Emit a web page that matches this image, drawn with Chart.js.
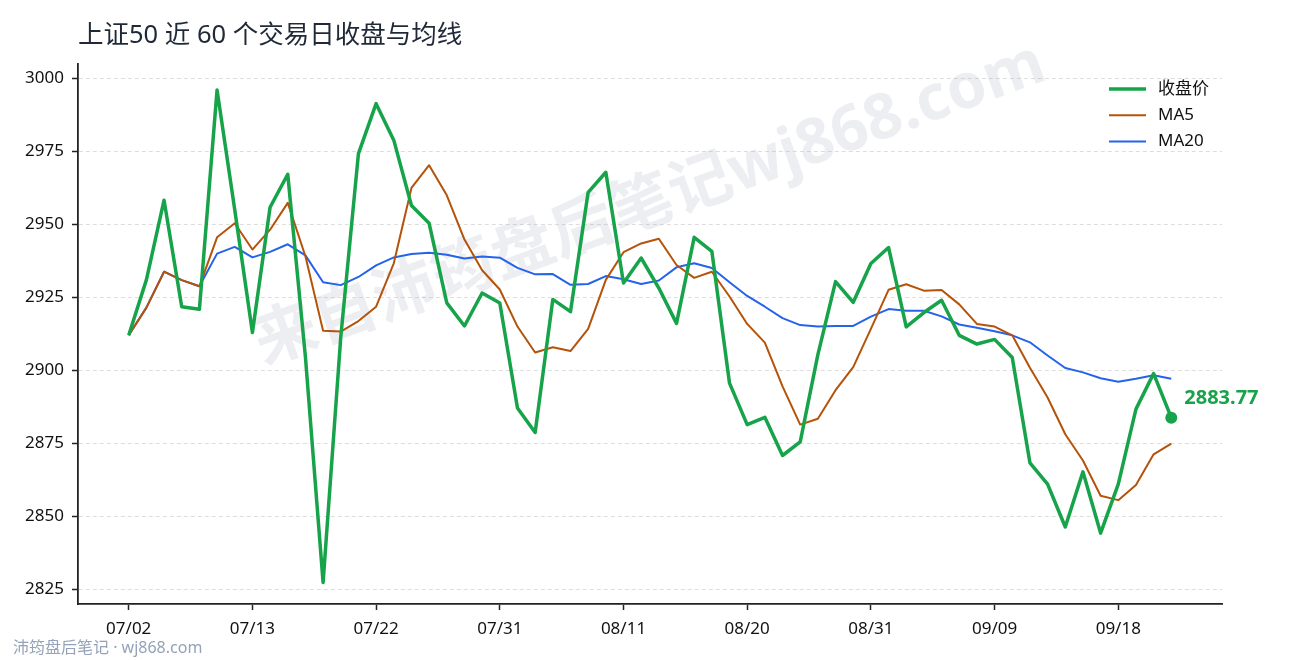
<!DOCTYPE html>
<html lang="zh-CN">
<head>
<meta charset="utf-8">
<title>上证50 近 60 个交易日收盘与均线</title>
<script src="https://cdn.jsdelivr.net/npm/chart.js@4.4.1/dist/chart.umd.min.js"></script>
<style>
  html, body { margin: 0; padding: 0; background: #fff; }
  #chart { display: block; }
</style>
</head>
<body>
<canvas id="chart" width="1290" height="660"></canvas>
<script>
const dates = [
  '07/02','07/03','07/06','07/07','07/08','07/09','07/10','07/13','07/14','07/15',
  '07/16','07/17','07/20','07/21','07/22','07/23','07/24','07/27','07/28','07/29',
  '07/30','07/31','08/03','08/04','08/05','08/06','08/07','08/10','08/11','08/12',
  '08/13','08/14','08/17','08/18','08/19','08/20','08/21','08/24','08/25','08/26',
  '08/27','08/28','08/31','09/01','09/02','09/03','09/04','09/07','09/08','09/09',
  '09/10','09/11','09/14','09/15','09/16','09/17','09/18','09/21','09/22','09/23'
];

const closes = [
  2912.0, 2931.0, 2958.3, 2921.8, 2920.9, 2996.1, 2955.0, 2913.0, 2955.9, 2967.2,
  2904.6, 2827.3, 2911.4, 2974.3, 2991.4, 2978.9, 2956.5, 2950.4, 2923.1, 2915.2,
  2926.5, 2923.1, 2887.1, 2878.7, 2924.3, 2920.1, 2961.0, 2967.9, 2929.9, 2938.5,
  2928.2, 2916.1, 2945.6, 2940.8, 2895.6, 2881.4, 2883.9, 2870.8, 2875.5, 2905.4,
  2930.4, 2923.3, 2936.6, 2942.1, 2914.9, 2919.8, 2924.0, 2912.0, 2909.0, 2910.6,
  2904.4, 2868.3, 2861.0, 2846.3, 2865.2, 2844.2, 2861.0, 2886.7, 2898.9, 2883.77
];

const ma5 = [
  2912.0, 2921.5, 2933.8, 2930.9, 2928.8, 2945.6, 2950.4, 2941.4, 2948.2, 2957.4,
  2939.1, 2913.6, 2913.3, 2916.9, 2921.8, 2936.7, 2962.5, 2970.3, 2960.0, 2944.8,
  2934.3, 2927.7, 2915.0, 2906.1, 2907.9, 2906.6, 2914.2, 2931.0, 2940.5, 2943.5,
  2945.1, 2936.1, 2931.7, 2933.8, 2925.3, 2915.9, 2909.5, 2894.5, 2881.4, 2883.4,
  2893.2, 2901.1, 2914.2, 2927.6, 2929.5, 2927.3, 2927.5, 2922.6, 2915.9, 2915.0,
  2912.0, 2900.9, 2890.7, 2878.1, 2869.1, 2857.0, 2855.5, 2860.7, 2871.2, 2874.9
];

const ma20 = [
  2912.0, 2921.5, 2933.8, 2930.9, 2928.8, 2940.0, 2942.3, 2938.7, 2940.6, 2943.2,
  2939.4, 2930.2, 2929.2, 2932.0, 2936.0, 2938.7, 2939.9, 2940.3, 2939.6, 2938.3,
  2939.0, 2938.6, 2935.1, 2932.9, 2933.0, 2929.3, 2929.6, 2932.3, 2931.2, 2929.6,
  2930.8, 2935.3, 2936.7, 2935.1, 2930.2, 2925.5, 2921.8, 2917.9, 2915.5, 2915.0,
  2915.2, 2915.2, 2918.4, 2921.0, 2920.4, 2920.4, 2918.5, 2915.7, 2914.6, 2913.4,
  2912.0, 2909.6, 2905.1, 2900.8, 2899.3, 2897.3, 2896.1, 2897.1, 2898.3, 2897.1
];

const tickIdx = [0, 7, 14, 21, 28, 35, 42, 49, 56];
const yTicks = [2825, 2850, 2875, 2900, 2925, 2950, 2975, 3000];

const FONT = "'Noto Sans', 'Noto Sans CJK SC', sans-serif";
const GREEN = '#16a34a';
const ORANGE = '#b45309';
const BLUE = '#2563eb';

function toPoints(arr) {
  return arr.map((v, i) => ({ x: i, y: v }));
}

// 水印、末值标注、标题、页脚和图例都在这里画
const decor = {
  id: 'decor',
  beforeDatasetsDraw(chart) {
    const ctx = chart.ctx;
    ctx.save();
    ctx.translate(650, 205);
    ctx.rotate(-20 * Math.PI / 180);
    ctx.font = `bold 63px ${FONT}`;
    ctx.fillStyle = 'rgba(148,163,184,0.18)';
    ctx.textAlign = 'center';
    ctx.textBaseline = 'middle';
    ctx.fillText('来自沛筠盘后笔记wj868.com', 0, 0);
    ctx.restore();
  },
  afterDatasetsDraw(chart) {
    const ctx = chart.ctx;
    const meta = chart.getDatasetMeta(0);
    const last = meta.data[meta.data.length - 1];
    ctx.save();
    ctx.font = `bold 20px ${FONT}`;
    ctx.fillStyle = GREEN;
    ctx.textAlign = 'left';
    ctx.textBaseline = 'middle';
    ctx.fillText(closes[closes.length - 1].toFixed(2), last.x + 13, last.y - 19);
    ctx.restore();
  },
  afterDraw(chart) {
    const ctx = chart.ctx;
    ctx.save();
    // 标题
    ctx.font = `25.5px ${FONT}`;
    ctx.fillStyle = '#1f2937';
    ctx.textAlign = 'left';
    ctx.textBaseline = 'middle';
    ctx.fillText('上证50 近 60 个交易日收盘与均线', 78, 36);
    // 页脚
    ctx.font = `16px ${FONT}`;
    ctx.fillStyle = '#94a3b8';
    ctx.fillText('沛筠盘后笔记 · wj868.com', 13, 648);
    // 图例
    ctx.font = `17px ${FONT}`;
    chart.data.datasets.forEach((ds, i) => {
      const y = 89 + i * 26.3;
      ctx.strokeStyle = ds.borderColor;
      ctx.lineWidth = ds.borderWidth;
      ctx.beginPath();
      ctx.moveTo(1109, y);
      ctx.lineTo(1146, y);
      ctx.stroke();
      ctx.fillStyle = '#111';
      ctx.fillText(ds.label, 1158, y);
    });
    ctx.restore();
  }
};

new Chart(document.getElementById('chart'), {
  type: 'line',
  data: {
    datasets: [
      {
        label: '收盘价',
        data: toPoints(closes),
        borderColor: GREEN,
        backgroundColor: GREEN,
        borderWidth: 3.5,
        pointRadius: ctx => ctx.dataIndex === closes.length - 1 ? 6 : 0,
        pointBorderWidth: 0,
        borderJoinStyle: 'round'
      },
      {
        label: 'MA5',
        data: toPoints(ma5),
        borderColor: ORANGE,
        borderWidth: 2,
        pointRadius: 0,
        borderJoinStyle: 'round'
      },
      {
        label: 'MA20',
        data: toPoints(ma20),
        borderColor: BLUE,
        borderWidth: 2,
        pointRadius: 0,
        borderJoinStyle: 'round'
      }
    ]
  },
  options: {
    responsive: false,
    animation: false,
    layout: { padding: { left: 0, right: 68, top: 64, bottom: 0 } },
    plugins: {
      legend: { display: false },
      tooltip: { enabled: false }
    },
    scales: {
      x: {
        type: 'linear',
        min: -2.87,
        max: 61.87,
        afterBuildTicks: scale => { scale.ticks = tickIdx.map(v => ({ value: v })); },
        afterFit: scale => { scale.height = 56; },
        ticks: {
          autoSkip: false,
          maxRotation: 0,
          padding: 9,
          color: '#111',
          font: { family: FONT, size: 17 },
          callback: value => dates[value]
        },
        grid: {
          drawOnChartArea: false,
          drawTicks: true,
          tickLength: 6,
          tickColor: '#222',
          tickWidth: 1.5
        },
        border: { display: true, color: '#222', width: 1.8 }
      },
      y: {
        min: 2819.9,
        max: 3005.0,
        afterBuildTicks: scale => { scale.ticks = yTicks.map(v => ({ value: v })); },
        afterFit: scale => { scale.width = 78; },
        ticks: {
          padding: 8,
          color: '#111',
          font: { family: FONT, size: 17 },
          callback: value => String(value)
        },
        grid: {
          color: '#dddddd',
          lineWidth: 1,
          drawTicks: true,
          tickLength: 6,
          tickColor: '#222',
          tickWidth: 1.5,
          tickBorderDash: []
        },
        border: { display: true, color: '#222', width: 1.8, dash: [4, 3] }
      }
    }
  },
  plugins: [decor]
});
</script>
</body>
</html>
